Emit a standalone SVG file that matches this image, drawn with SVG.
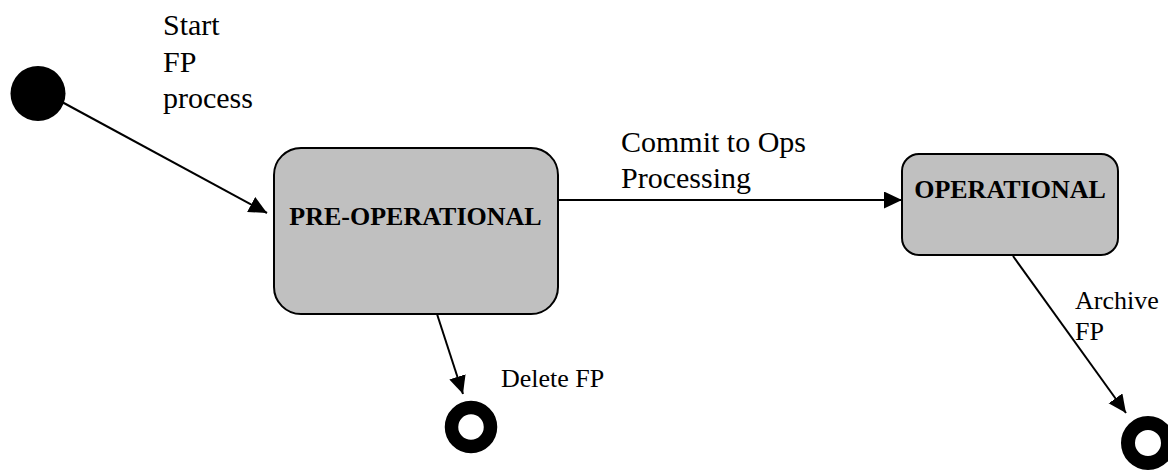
<svg xmlns="http://www.w3.org/2000/svg" width="1168" height="470" viewBox="0 0 1168 470">
<style>
.lbl{font-family:"Liberation Serif","Times New Roman",serif;fill:#000}
.big{font-size:30px}
.sm{font-size:26px}
.st{font-family:"Liberation Serif","Times New Roman",serif;font-size:26px;font-weight:bold;fill:#000;text-anchor:middle}
.box{fill:#c0c0c0;stroke:#000;stroke-width:2}
.edge{fill:none;stroke:#000;stroke-width:2}
</style>
<defs>
<marker id="ah" markerUnits="userSpaceOnUse" markerWidth="19" markerHeight="18" refX="18" refY="8.5" orient="auto">
<path d="M0,0 L18,8.5 L0,17 z" fill="#000"/>
</marker>
</defs>
<g id="connectors">
<line class="edge" x1="62" y1="102" x2="267" y2="213" marker-end="url(#ah)"/>
<line class="edge" x1="558" y1="200" x2="902" y2="200" marker-end="url(#ah)"/>
<line class="edge" x1="437" y1="314" x2="463" y2="394" marker-end="url(#ah)"/>
<line class="edge" x1="1013" y1="256" x2="1126" y2="413" marker-end="url(#ah)"/>
<text class="lbl big" x="163" y="35">Start</text>
<text class="lbl big" x="163" y="72">FP</text>
<text class="lbl big" x="163" y="108">process</text>
<text class="lbl big" x="621" y="152">Commit to Ops</text>
<text class="lbl big" x="621" y="188">Processing</text>
<text class="lbl sm" x="501" y="387">Delete FP</text>
<text class="lbl sm" x="1075" y="309">Archive</text>
<text class="lbl sm" x="1075" y="340">FP</text>
</g>
<g id="start">
<circle cx="38" cy="93.5" r="27.5" fill="#000"/>
</g>
<g id="pre-operational">
<rect class="box" x="274" y="148" width="284" height="166" rx="27" ry="27"/>
<text class="st" x="415.5" y="225">PRE-OPERATIONAL</text>
</g>
<g id="operational">
<rect class="box" x="902" y="154" width="216" height="101" rx="17" ry="17"/>
<text class="st" x="1010" y="198">OPERATIONAL</text>
</g>
<g id="end-delete">
<circle cx="471" cy="427" r="19.5" fill="none" stroke="#000" stroke-width="13.5"/>
</g>
<g id="end-archive">
<circle cx="1148" cy="443" r="20" fill="none" stroke="#000" stroke-width="14"/>
</g>
</svg>
